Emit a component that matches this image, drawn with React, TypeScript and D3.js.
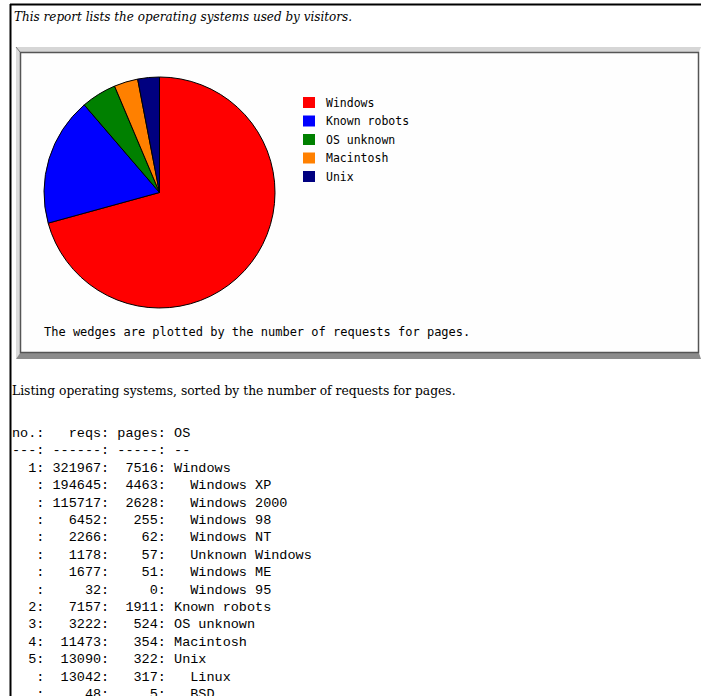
import React from "react";
import * as d3 from "d3";

const categories = ["Windows", "Known robots", "OS unknown", "Macintosh", "Unix"];
const pagesByCategory = [7516, 1911, 524, 354, 322];
const categoryColors = ["#ff0000", "#0000ff", "#008000", "#ff8000", "#000080"];

const rowNo = ["1", "", "", "", "", "", "", "", "2", "3", "4", "5", "", ""];
const rowReqs = [321967, 194645, 115717, 6452, 2266, 1178, 1677, 32, 7157, 3222, 11473, 13090, 13042, 48];
const rowPages = [7516, 4463, 2628, 255, 62, 57, 51, 0, 1911, 524, 354, 322, 317, 5];
const rowOS = [
  "Windows", "Windows XP", "Windows 2000", "Windows 98", "Windows NT", "Unknown Windows",
  "Windows ME", "Windows 95", "Known robots", "OS unknown", "Macintosh", "Unix", "Linux", "BSD",
];
const rowSub = [false, true, true, true, true, true, true, true, false, false, false, false, true, true];

const W = 701;
const H = 696;

export default function App() {
  const cx = 159.5;
  const cy = 192.5;
  const r = 115.5;
  const pie = d3.pie<number>().sort(null).startAngle(0).endAngle(2 * Math.PI);
  const arcs = pie(pagesByCategory);
  const arcGen = d3.arc<d3.PieArcDatum<number>>().innerRadius(0).outerRadius(r);

  const legendY = d3.scalePoint<string>().domain(categories).range([102, 176]);

  const lines: string[] = [
    "no.:   reqs: pages: OS",
    "---: ------: -----: --",
    ...rowReqs.map(
      (v, i) =>
        `${rowNo[i].padStart(3, " ")}: ${String(v).padStart(6, " ")}: ${String(rowPages[i]).padStart(5, " ")}: ${rowSub[i] ? "  " : ""}${rowOS[i]}`
    ),
  ];
  const lineY = d3.scaleLinear().domain([0, 1]).range([437, 454.4]);

  const mono = "'Liberation Mono', 'DejaVu Sans Mono', monospace";
  const pix = "'DejaVu Sans Mono', monospace";
  const serif = "'DejaVu Serif', 'Liberation Serif', serif";

  return (
    <svg
      width={W}
      height={H}
      style={{ position: "absolute", left: 0, top: 0, background: "#ffffff" }}
    >
      <rect x={0} y={0} width={W} height={H} fill="#ffffff" />
      {/* page border */}
      <line x1={10} y1={4.5} x2={W} y2={4.5} stroke="#000" strokeWidth={2} />
      <line x1={10.5} y1={4} x2={10.5} y2={H} stroke="#000" strokeWidth={2} />

      <text x={14} y={20.5} fontFamily={serif} fontStyle="italic" fontSize={12} fill="#000">
        This report lists the operating systems used by visitors.
      </text>

      {/* bevel frame */}
      <polygon points="16,47 701,47 699,52 20,52" fill="#d6d6d6" />
      <polygon points="16,47 20,52 20,353 16,359" fill="#dcdcdc" />
      <polygon points="16,359 20,353 699,353 701,359" fill="#8c8c8c" />
      <line x1={16} y1={47} x2={20} y2={52} stroke="#777" strokeWidth={1} />
      <rect x={20.5} y={52.5} width={678} height={300} fill="#fefefe" stroke="#555" strokeWidth={1.5} />

      {/* pie */}
      <g transform={`translate(${cx},${cy})`}>
        {arcs.map((a, i) => (
          <path key={categories[i]} d={arcGen(a) || ""} fill={categoryColors[i]} stroke="#000" strokeWidth={1} />
        ))}
      </g>

      {/* legend */}
      {categories.map((c, i) => (
        <g key={c}>
          <rect x={303} y={(legendY(c) as number) - 5} width={12} height={11} fill={categoryColors[i]} />
          <text
            x={326}
            y={(legendY(c) as number) + 4.5}
            fontFamily={pix}
            fontSize={11.5}
            fill="#000"
          >
            {c}
          </text>
        </g>
      ))}

      <text x={44} y={336} fontFamily={pix} fontSize={12} fill="#000">
        The wedges are plotted by the number of requests for pages.
      </text>

      <text x={12} y={395} fontFamily={serif} fontSize={12.3} fill="#000">
        Listing operating systems, sorted by the number of requests for pages.
      </text>

      {lines.map((l, i) => (
        <text
          key={i}
          x={12}
          y={lineY(i)}
          fontFamily={mono}
          fontSize={13.5}
          fill="#000"
          style={{ whiteSpace: "pre" }}
          xmlSpace="preserve"
        >
          {l}
        </text>
      ))}
    </svg>
  );
}
